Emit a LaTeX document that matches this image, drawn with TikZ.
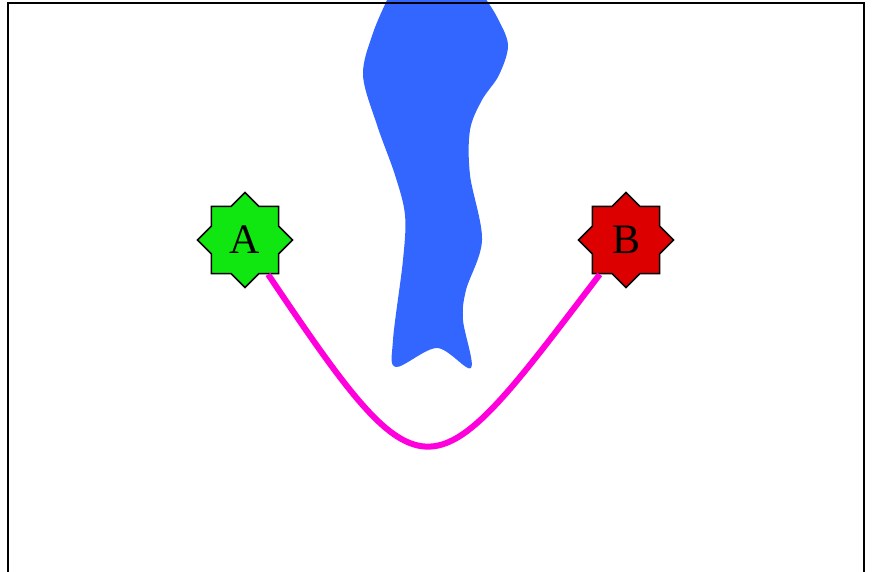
\documentclass[tikz,border=0pt]{standalone}
\usepackage{fontspec}
\newfontfamily\labelfont{Liberation Serif}
\usetikzlibrary{shapes.geometric}
\definecolor{starA}{RGB}{16,230,16}
\definecolor{starB}{RGB}{220,0,0}
\definecolor{blob}{RGB}{51,102,255}
\definecolor{wire}{RGB}{255,0,221}
\tikzset{
  starnode/.style={star, star points=8, star point ratio=1.3066, minimum size=95pt,
    inner sep=0pt, draw=black, line width=1.6pt,
    font=\labelfont\fontsize{42}{42}\selectfont},
  wireline/.style={draw=wire, line width=6pt},
  frameline/.style={draw=black, line width=2.6pt}
}
\begin{document}
\begin{tikzpicture}[x=1pt,y=-1pt]
\useasboundingbox (0,0) rectangle (872,572);
\begin{scope}
\clip (0,0) rectangle (872,572);
\fill[blob] plot[smooth, tension=0.55] coordinates {
  (485,-2) (497,17) (508,45) (499,75) (482,100) (470,130) (470,175)
  (482,240) (466,290) (463,320) (471,368) (437,348) (396,367) (393,340)
  (403,260) (405,215) (395,175) (377,125) (363,75) (373,33) (388,-2)} -- cycle;
\draw[frameline] (8,600) -- (8,3) -- (864,3) -- (864,600);
\end{scope}
\node[starnode, fill=starA] (A) at (245,240) {A};
\node[starnode, fill=starB] (B) at (626,240) {B};
\draw[wireline] (A) .. controls (427,511) and (430,497) .. (B);
\end{tikzpicture}
\end{document}
